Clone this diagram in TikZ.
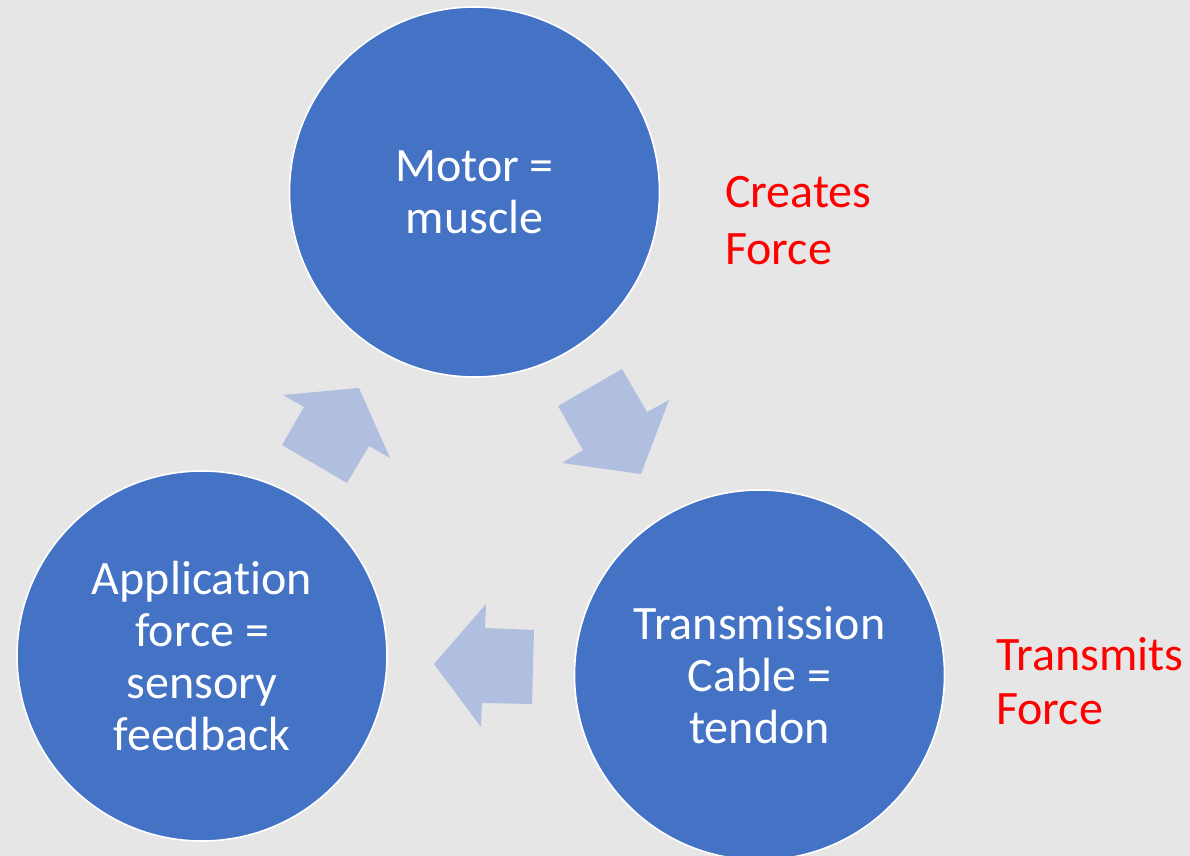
\documentclass[tikz,border=0pt]{standalone}
\usepackage{fontspec}
\setmainfont{Carlito}[Ligatures={NoCommon}]
\definecolor{pagebg}{HTML}{E7E6E6}
\definecolor{discblue}{HTML}{4472C4}
\definecolor{flowblue}{HTML}{B0BFE0}
\definecolor{notered}{HTML}{FF0000}
\begin{document}
\begin{tikzpicture}[x=1bp,y=-1bp,
  disc/.style={circle, fill=discblue, draw=white, line width=1.6bp,
    minimum size=370bp, inner sep=0pt, align=center, text=white,
    font=\fontsize{48bp}{52bp}\selectfont},
  flow/.style={fill=flowblue, draw=none},
  remark/.style={inner sep=0pt, align=left, text=notered, anchor=west}]
  % page
  \fill[pagebg] (0,0) rectangle (1190,856);
  \useasboundingbox (0,0) rectangle (1190,856);

  % the three stages
  \node[disc] (motor) at (474.5,192) {Motor =\\muscle};
  \node[disc] (trans) at (759.5,675) {Transmission\\Cable =\\tendon};
  \node[disc] (app)   at (202,656)   {Application\\force =\\sensory\\feedback};

  % block arrows of the cycle
  \fill[flow] (558,406) -- (622,369) -- (647,412) -- (669,400) -- (641,474)
    -- (562,463) -- (583,450) -- cycle;
  \fill[flow] (534,630) -- (485,628) -- (486,604) -- (434,664) -- (481,727)
    -- (482,703) -- (532,704) -- cycle;
  \fill[flow] (282,445) -- (347,483) -- (369,446) -- (390,458) -- (359,388)
    -- (283,395) -- (304,407) -- cycle;

  % side remarks
  \node[remark, font=\fontsize{48bp}{57bp}\selectfont] (creates) at (725,220.5)
    {Creates\\Force};
  \node[remark, font=\fontsize{48bp}{54bp}\selectfont] (transmits) at (996,681.5)
    {Transmits\\Force};
\end{tikzpicture}
\end{document}
